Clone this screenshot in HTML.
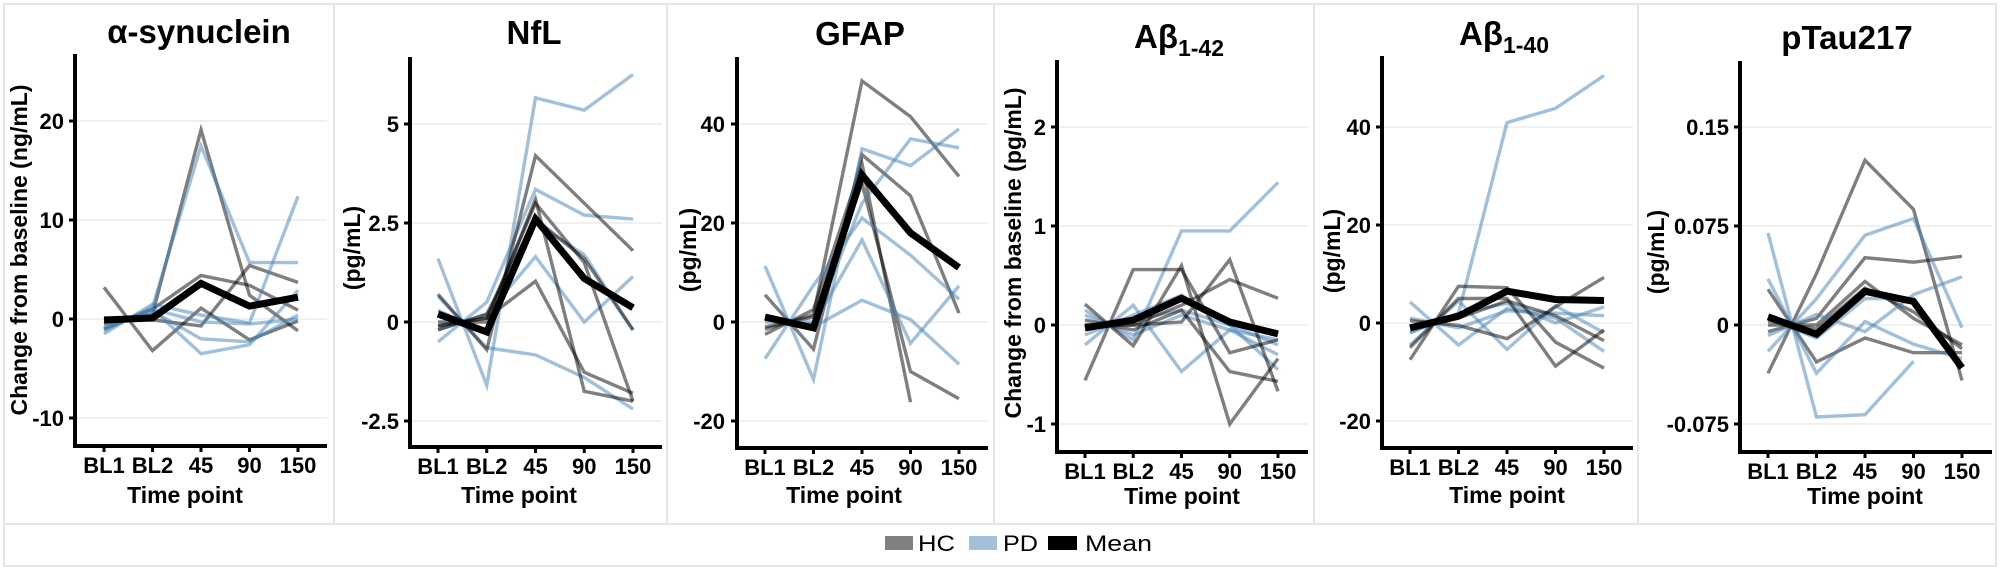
<!DOCTYPE html>
<html><head><meta charset="utf-8">
<style>
html,body{margin:0;padding:0;background:#fff;}
svg{display:block;font-family:"Liberation Sans",Arial,sans-serif;}
.t{font-size:33px;font-weight:bold;text-anchor:middle;}
.yt{font-size:22px;font-weight:bold;text-anchor:end;}
.xt{font-size:22px;font-weight:bold;text-anchor:middle;}
.at{font-size:23px;font-weight:bold;text-anchor:middle;}
.ax{fill:none;stroke:#000;stroke-width:4;}
.tk{stroke:#000;stroke-width:3;}
.gr{stroke:#ebebeb;stroke-width:1.5;}
.hc{fill:none;stroke:#000;stroke-opacity:0.5;stroke-width:3.4;vector-effect:non-scaling-stroke;stroke-linejoin:miter;}
.pd{fill:none;stroke:#4682b4;stroke-opacity:0.5;stroke-width:3.4;vector-effect:non-scaling-stroke;stroke-linejoin:miter;}
.mn{fill:none;stroke:#000;stroke-width:7;vector-effect:non-scaling-stroke;stroke-linejoin:miter;}
</style></head>
<body>
<svg width="2000" height="571" viewBox="0 0 2000 571" xmlns="http://www.w3.org/2000/svg">
<rect x="0" y="0" width="2000" height="571" fill="#fff"/>
<!-- frame -->
<rect x="4" y="4" width="1992" height="562" fill="none" stroke="#e6e6e6" stroke-width="2"/>
<line x1="4" y1="524" x2="1996" y2="524" stroke="#e6e6e6" stroke-width="2"/>
<g stroke="#e6e6e6" stroke-width="2">
<line x1="334" y1="4" x2="334" y2="524"/>
<line x1="667" y1="4" x2="667" y2="524"/>
<line x1="994" y1="4" x2="994" y2="524"/>
<line x1="1314" y1="4" x2="1314" y2="524"/>
<line x1="1638" y1="4" x2="1638" y2="524"/>
</g>

<!-- ============ PANEL 1 ============ -->
<text class="t" x="199" y="43">α-synuclein</text>
<g class="gr"><line x1="75" y1="121" x2="327" y2="121"/><line x1="75" y1="220" x2="327" y2="220"/><line x1="75" y1="319" x2="327" y2="319"/><line x1="75" y1="418" x2="327" y2="418"/></g>
<g transform="translate(104,319) scale(48.5,-9.9)">
<polyline class="hc" points="0,3.2 1,-3.2 2,1.1 3,-2.1 4,-0.2"/>
<polyline class="hc" points="0,-0.5 1,0.5 2,19.1 3,2.4 4,-1.2"/>
<polyline class="hc" points="0,-1 1,1 2,4.4 3,3.4 4,0.9"/>
<polyline class="hc" points="0,0.1 1,-0.1 2,-0.7 3,5.4 4,3.7"/>
<polyline class="pd" points="0,-1.2 1,1.2 2,17.5 3,5.7 4,5.7"/>
<polyline class="pd" points="0,-1.5 1,1.5 2,0.4 3,-0.4 4,12.4"/>
<polyline class="pd" points="0,-1 1,1 2,-3.5 3,-2.6 4,2.9"/>
<polyline class="pd" points="0,-0.8 1,0.8 2,-2 3,-2.3 4,0.4"/>
<polyline class="pd" points="0,-1 1,1 2,-0.3 3,-0.5 4,0"/>
<polyline class="mn" points="0,-0.1 1,0.1 2,3.6 3,1.3 4,2.2"/>
</g>
<path class="ax" d="M75,54 V446 H327"/>
<g class="tk"><line x1="69" y1="121" x2="75" y2="121"/><line x1="69" y1="220" x2="75" y2="220"/><line x1="69" y1="319" x2="75" y2="319"/><line x1="69" y1="418" x2="75" y2="418"/>
<line x1="104" y1="446" x2="104" y2="452"/><line x1="152.5" y1="446" x2="152.5" y2="452"/><line x1="201" y1="446" x2="201" y2="452"/><line x1="249.5" y1="446" x2="249.5" y2="452"/><line x1="298" y1="446" x2="298" y2="452"/></g>
<text class="yt" x="64" y="129">20</text><text class="yt" x="64" y="228">10</text><text class="yt" x="64" y="327">0</text><text class="yt" x="64" y="426">-10</text>
<text class="xt" x="104" y="473">BL1</text><text class="xt" x="152.5" y="473">BL2</text><text class="xt" x="201" y="473">45</text><text class="xt" x="249.5" y="473">90</text><text class="xt" x="298" y="473">150</text>
<text class="at" x="185" y="503">Time point</text>
<text class="at" transform="translate(27,250) rotate(-90)">Change from baseline (ng/mL)</text>

<!-- ============ PANEL 2 ============ -->
<text class="t" x="534" y="44">NfL</text>
<g class="gr"><line x1="410" y1="124" x2="662" y2="124"/><line x1="410" y1="223" x2="662" y2="223"/><line x1="410" y1="322" x2="662" y2="322"/><line x1="410" y1="421" x2="662" y2="421"/></g>
<g transform="translate(438,322) scale(48.75,-39.6)">
<polyline class="pd" points="0,1.6 1,-1.6 2,5.66 3,5.35 4,6.25"/>
<polyline class="pd" points="0,-0.5 1,0.5 2,3.35 3,2.7 4,2.6"/>
<polyline class="pd" points="0,0.65 1,-0.65 2,-0.83 3,-1.4 4,-2.2"/>
<polyline class="pd" points="0,-0.2 1,0.2 2,1.65 3,0 4,1.15"/>
<polyline class="pd" points="0,0.3 1,-0.3 2,2.5 3,1.7 4,-0.2"/>
<polyline class="hc" points="0,0.7 1,-0.7 2,4.2 3,3.0 4,1.8"/>
<polyline class="hc" points="0,-0.1 1,0.1 2,1.03 3,-1.27 4,-1.8"/>
<polyline class="hc" points="0,0 1,0 2,3.1 3,-1.75 4,-2.0"/>
<polyline class="hc" points="0,-0.1 1,0.1 2,3.0 3,1.5 4,-2.0"/>
<polyline class="hc" points="0,-0.2 1,0.2 2,2.6 3,1.6 4,-0.2"/>
<polyline class="mn" points="0,0.2 1,-0.25 2,2.6 3,1.1 4,0.36"/>
</g>
<path class="ax" d="M410,57 V447 H662"/>
<g class="tk"><line x1="404" y1="124" x2="410" y2="124"/><line x1="404" y1="223" x2="410" y2="223"/><line x1="404" y1="322" x2="410" y2="322"/><line x1="404" y1="421" x2="410" y2="421"/>
<line x1="438" y1="447" x2="438" y2="453"/><line x1="486.75" y1="447" x2="486.75" y2="453"/><line x1="535.5" y1="447" x2="535.5" y2="453"/><line x1="584.25" y1="447" x2="584.25" y2="453"/><line x1="633" y1="447" x2="633" y2="453"/></g>
<text class="yt" x="399" y="132">5</text><text class="yt" x="399" y="231">2.5</text><text class="yt" x="399" y="330">0</text><text class="yt" x="399" y="429">-2.5</text>
<text class="xt" x="438" y="474">BL1</text><text class="xt" x="486.75" y="474">BL2</text><text class="xt" x="535.5" y="474">45</text><text class="xt" x="584.25" y="474">90</text><text class="xt" x="633" y="474">150</text>
<text class="at" x="519" y="503">Time point</text>
<text class="at" transform="translate(360,248) rotate(-90)">(pg/mL)</text>

<!-- ============ PANEL 3 ============ -->
<text class="t" x="860" y="45">GFAP</text>
<g class="gr"><line x1="737" y1="124" x2="988" y2="124"/><line x1="737" y1="223" x2="988" y2="223"/><line x1="737" y1="322" x2="988" y2="322"/><line x1="737" y1="421" x2="988" y2="421"/></g>
<g transform="translate(765,322) scale(48.5,-4.95)">
<polyline class="hc" points="0,5.5 1,-5.5 2,33.8 3,25.5 4,1.8"/>
<polyline class="hc" points="0,-1.5 1,1.5 2,48.7 3,41.5 4,29.4"/>
<polyline class="hc" points="0,-2.5 1,2.5 2,32 3,-16.2"/>
<polyline class="hc" points="0,-1 1,1 2,28 3,-10 4,-15.5"/>
<polyline class="pd" points="0,11.3 1,-11.6 2,35 3,31.6 4,39"/>
<polyline class="pd" points="0,-7.4 1,7.4 2,21 3,13.5 4,4.6"/>
<polyline class="pd" points="0,0.5 1,-0.5 2,16.6 3,-4.3 4,7.3"/>
<polyline class="pd" points="0,1 1,-1 2,4.4 3,0.5 4,-8.5"/>
<polyline class="pd" points="0,0 1,0 2,24 3,37 4,35.2"/>
<polyline class="mn" points="0,1 1,-1.2 2,29.7 3,18 4,11"/>
</g>
<path class="ax" d="M737,57 V448 H988"/>
<g class="tk"><line x1="731" y1="124" x2="737" y2="124"/><line x1="731" y1="223" x2="737" y2="223"/><line x1="731" y1="322" x2="737" y2="322"/><line x1="731" y1="421" x2="737" y2="421"/>
<line x1="765" y1="448" x2="765" y2="454"/><line x1="813.5" y1="448" x2="813.5" y2="454"/><line x1="862" y1="448" x2="862" y2="454"/><line x1="910.5" y1="448" x2="910.5" y2="454"/><line x1="959" y1="448" x2="959" y2="454"/></g>
<text class="yt" x="725" y="132">40</text><text class="yt" x="725" y="231">20</text><text class="yt" x="725" y="330">0</text><text class="yt" x="725" y="429">-20</text>
<text class="xt" x="765" y="475">BL1</text><text class="xt" x="813.5" y="475">BL2</text><text class="xt" x="862" y="475">45</text><text class="xt" x="910.5" y="475">90</text><text class="xt" x="959" y="475">150</text>
<text class="at" x="844" y="503">Time point</text>
<text class="at" transform="translate(696,250) rotate(-90)">(pg/mL)</text>

<!-- ============ PANEL 4 ============ -->
<text x="1134" y="48" style="font-size:33px;font-weight:bold;">Aβ<tspan dy="8" style="font-size:23px;">1-42</tspan></text>
<g class="gr"><line x1="1057" y1="127" x2="1308" y2="127"/><line x1="1057" y1="226" x2="1308" y2="226"/><line x1="1057" y1="325" x2="1308" y2="325"/><line x1="1057" y1="424" x2="1308" y2="424"/></g>
<g transform="translate(1085,325) scale(48.25,-99)">
<polyline class="pd" points="0,0.15 1,-0.15 2,0.95 3,0.95 4,1.44"/>
<polyline class="pd" points="0,-0.2 1,0.2 2,-0.47 3,-0.05 4,-0.15"/>
<polyline class="pd" points="0,-0.1 1,0.1 2,0.3 3,0 4,-0.45"/>
<polyline class="pd" points="0,0.1 1,-0.1 2,0.1 3,-0.05 4,-0.3"/>
<polyline class="pd" points="0,-0.05 1,0.05 2,0.15 3,0 4,-0.2"/>
<polyline class="hc" points="0,-0.56 1,0.56 2,0.56 3,-0.28 4,-0.15"/>
<polyline class="hc" points="0,0.21 1,-0.21 2,0.6 3,-1.0 4,-0.34"/>
<polyline class="hc" points="0,0 1,0 2,0.03 3,0.66 4,-0.67"/>
<polyline class="hc" points="0,0 1,0 2,0.2 3,0.46 4,0.27"/>
<polyline class="hc" points="0,0.05 1,-0.05 2,0.15 3,-0.47 4,-0.57"/>
<polyline class="mn" points="0,-0.03 1,0.05 2,0.27 3,0.03 4,-0.09"/>
</g>
<path class="ax" d="M1057,60 V452 H1308"/>
<g class="tk"><line x1="1051" y1="127" x2="1057" y2="127"/><line x1="1051" y1="226" x2="1057" y2="226"/><line x1="1051" y1="325" x2="1057" y2="325"/><line x1="1051" y1="424" x2="1057" y2="424"/>
<line x1="1085" y1="452" x2="1085" y2="458"/><line x1="1133.25" y1="452" x2="1133.25" y2="458"/><line x1="1181.5" y1="452" x2="1181.5" y2="458"/><line x1="1229.75" y1="452" x2="1229.75" y2="458"/><line x1="1278" y1="452" x2="1278" y2="458"/></g>
<text class="yt" x="1046" y="135">2</text><text class="yt" x="1046" y="234">1</text><text class="yt" x="1046" y="333">0</text><text class="yt" x="1046" y="432">-1</text>
<text class="xt" x="1085" y="479">BL1</text><text class="xt" x="1133.25" y="479">BL2</text><text class="xt" x="1181.5" y="479">45</text><text class="xt" x="1229.75" y="479">90</text><text class="xt" x="1278" y="479">150</text>
<text class="at" x="1182" y="504">Time point</text>
<text class="at" transform="translate(1021,253) rotate(-90)">Change from baseline (pg/mL)</text>

<!-- ============ PANEL 5 ============ -->
<text x="1459" y="45" style="font-size:33px;font-weight:bold;">Aβ<tspan dy="8" style="font-size:23px;">1-40</tspan></text>
<g class="gr"><line x1="1382" y1="127" x2="1633" y2="127"/><line x1="1382" y1="225" x2="1633" y2="225"/><line x1="1382" y1="323" x2="1633" y2="323"/><line x1="1382" y1="421" x2="1633" y2="421"/></g>
<g transform="translate(1410,323) scale(48.5,-4.9)">
<polyline class="pd" points="0,-2 1,2 2,40.9 3,43.8 4,50.5"/>
<polyline class="pd" points="0,4.3 1,-4.5 2,3 3,1 4,-5.8"/>
<polyline class="pd" points="0,-4.5 1,4.5 2,-5.4 3,3.5 4,-2"/>
<polyline class="pd" points="0,-2 1,2 2,4 3,0 4,3.3"/>
<polyline class="pd" points="0,1 1,-1 2,2.5 3,2 4,1.5"/>
<polyline class="hc" points="0,-7.5 1,7.5 2,7.2 3,-3.9 4,-9.2"/>
<polyline class="hc" points="0,-5 1,5 2,5 3,-8.8 4,-1.4"/>
<polyline class="hc" points="0,0.5 1,-0.5 2,-3.2 3,3.3 4,9.3"/>
<polyline class="hc" points="0,-1 1,1 2,4.5 3,1.5 4,-3.6"/>
<polyline class="mn" points="0,-1 1,1.4 2,6.5 3,4.8 4,4.6"/>
</g>
<path class="ax" d="M1382,56 V448 H1633"/>
<g class="tk"><line x1="1376" y1="127" x2="1382" y2="127"/><line x1="1376" y1="225" x2="1382" y2="225"/><line x1="1376" y1="323" x2="1382" y2="323"/><line x1="1376" y1="421" x2="1382" y2="421"/>
<line x1="1410" y1="448" x2="1410" y2="454"/><line x1="1458.5" y1="448" x2="1458.5" y2="454"/><line x1="1507" y1="448" x2="1507" y2="454"/><line x1="1555.5" y1="448" x2="1555.5" y2="454"/><line x1="1604" y1="448" x2="1604" y2="454"/></g>
<text class="yt" x="1371" y="135">40</text><text class="yt" x="1371" y="233">20</text><text class="yt" x="1371" y="331">0</text><text class="yt" x="1371" y="429">-20</text>
<text class="xt" x="1410" y="475">BL1</text><text class="xt" x="1458.5" y="475">BL2</text><text class="xt" x="1507" y="475">45</text><text class="xt" x="1555.5" y="475">90</text><text class="xt" x="1604" y="475">150</text>
<text class="at" x="1507" y="503">Time point</text>
<text class="at" transform="translate(1340,251) rotate(-90)">(pg/mL)</text>

<!-- ============ PANEL 6 ============ -->
<text class="t" x="1847" y="49">pTau217</text>
<g class="gr"><line x1="1740" y1="127" x2="1992" y2="127"/><line x1="1740" y1="226" x2="1992" y2="226"/><line x1="1740" y1="325" x2="1992" y2="325"/><line x1="1740" y1="424" x2="1992" y2="424"/></g>
<g transform="translate(1768,325) scale(48.5,-1.32)">
<polyline class="hc" points="0,-36.6 1,39 2,124.8 3,87.6 4,-42"/>
<polyline class="hc" points="0,27 1,-28 2,-9.8 3,-21 4,-21"/>
<polyline class="hc" points="0,-5 1,5 2,51 3,47.6 4,52"/>
<polyline class="hc" points="0,0 1,0 2,33 3,5 4,-15"/>
<polyline class="hc" points="0,3 1,-3 2,28 3,10 4,-18"/>
<polyline class="pd" points="0,69.7 1,-69.7 2,-68 3,-27.5"/>
<polyline class="pd" points="0,35 1,-36.6 2,2.6 3,-14.5 4,-25.5"/>
<polyline class="pd" points="0,-20 1,20 2,68 3,80.7 4,-2"/>
<polyline class="pd" points="0,-8 1,8 2,-5 3,23 4,36.5"/>
<polyline class="pd" points="0,5 1,-10 2,20 3,20 4,-30"/>
<polyline class="mn" points="0,6.2 1,-7 2,25.5 3,17.8 4,-32.4"/>
</g>
<path class="ax" d="M1740,61 V452 H1992"/>
<g class="tk"><line x1="1734" y1="127" x2="1740" y2="127"/><line x1="1734" y1="226" x2="1740" y2="226"/><line x1="1734" y1="325" x2="1740" y2="325"/><line x1="1734" y1="424" x2="1740" y2="424"/>
<line x1="1768" y1="452" x2="1768" y2="458"/><line x1="1816.5" y1="452" x2="1816.5" y2="458"/><line x1="1865" y1="452" x2="1865" y2="458"/><line x1="1913.5" y1="452" x2="1913.5" y2="458"/><line x1="1962" y1="452" x2="1962" y2="458"/></g>
<text class="yt" x="1729" y="135">0.15</text><text class="yt" x="1729" y="234">0.075</text><text class="yt" x="1729" y="333">0</text><text class="yt" x="1729" y="432">-0.075</text>
<text class="xt" x="1768" y="479">BL1</text><text class="xt" x="1816.5" y="479">BL2</text><text class="xt" x="1865" y="479">45</text><text class="xt" x="1913.5" y="479">90</text><text class="xt" x="1962" y="479">150</text>
<text class="at" x="1865" y="504">Time point</text>
<text class="at" transform="translate(1664,252) rotate(-90)">(pg/mL)</text>

<!-- ============ LEGEND ============ -->
<rect x="885" y="536" width="28" height="14" fill="#808080"/>
<text x="918" y="551" style="font-size:22px;" textLength="37" lengthAdjust="spacingAndGlyphs">HC</text>
<rect x="969" y="536" width="28" height="14" fill="#a2c0d9"/>
<text x="1003" y="551" style="font-size:22px;" textLength="35" lengthAdjust="spacingAndGlyphs">PD</text>
<rect x="1048" y="536" width="29" height="14" fill="#000"/>
<text x="1085" y="551" style="font-size:22px;" textLength="67" lengthAdjust="spacingAndGlyphs">Mean</text>
</svg>
</body></html>
